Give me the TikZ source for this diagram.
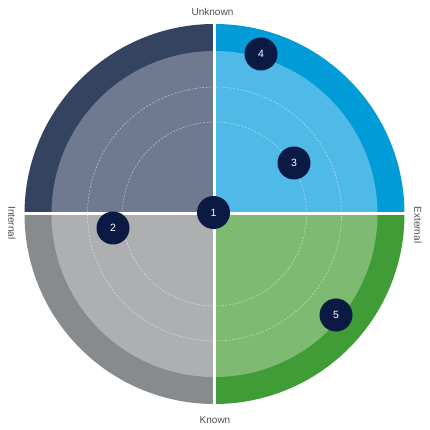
\documentclass[tikz,border=0pt]{standalone}
\usepackage{fontspec}
\setmainfont{Liberation Sans}
\definecolor{tlout}{HTML}{34435F}
\definecolor{tlin}{HTML}{6F7A91}
\definecolor{trout}{HTML}{019BD8}
\definecolor{trin}{HTML}{4FB9E7}
\definecolor{blout}{HTML}{888B8E}
\definecolor{blin}{HTML}{AEAFB1}
\definecolor{brout}{HTML}{409C36}
\definecolor{brin}{HTML}{7EBA71}
\definecolor{navy}{HTML}{0B1A43}
\definecolor{labgray}{HTML}{4F4F4F}
\begin{document}
\begin{tikzpicture}[x=1pt,y=1pt,
  marker/.style={circle, fill=navy, text=white, minimum size=33pt, inner sep=0pt, font=\fontsize{10.5}{12}\selectfont},
  axislabel/.style={text=labgray, font=\fontsize{10}{12}\selectfont, inner sep=0pt},
  ring/.style={white, opacity=0.5, line width=0.6pt, dash pattern=on 2pt off 1.5pt},
  gap/.style={white, line width=3pt}]
\useasboundingbox (0,0) rectangle (430,430);
\fill[white] (0,0) rectangle (430,430);
\coordinate (C) at (214.5,216);
% outer sectors
\fill[tlout] (C) -- ++(0,190) arc[start angle=90, end angle=180, radius=190] -- cycle;
\fill[trout] (C) -- ++(190,0) arc[start angle=0, end angle=90, radius=190] -- cycle;
\fill[blout] (C) -- ++(-190,0) arc[start angle=180, end angle=270, radius=190] -- cycle;
\fill[brout] (C) -- ++(0,-190) arc[start angle=270, end angle=360, radius=190] -- cycle;
% inner sectors
\fill[tlin] (C) -- ++(0,163) arc[start angle=90, end angle=180, radius=163] -- cycle;
\fill[trin] (C) -- ++(163,0) arc[start angle=0, end angle=90, radius=163] -- cycle;
\fill[blin] (C) -- ++(-163,0) arc[start angle=180, end angle=270, radius=163] -- cycle;
\fill[brin] (C) -- ++(0,-163) arc[start angle=270, end angle=360, radius=163] -- cycle;
% dashed rings
\draw[ring] (C) circle[radius=92];
\draw[ring] (C) circle[radius=127];
% gaps
\draw[gap] ([xshift=-195pt]C) -- ([xshift=195pt]C);
\draw[gap] ([yshift=-195pt]C) -- ([yshift=195pt]C);
% markers
\node[marker] (m1) at (213.5,217.5) {1};
\node[marker] (m2) at (113,202) {2};
\node[marker] (m3) at (294,267) {3};
\node[marker] (m4) at (261,376) {4};
\node[marker] (m5) at (336,115) {5};
% axis labels
\node[axislabel] (unknown) at (212.5,418) {Unknown};
\node[axislabel] (known) at (215,10) {Known};
\node[axislabel, rotate=-90] (internal) at (12,207) {Internal};
\node[axislabel, rotate=-90] (external) at (418,205) {External};
\end{tikzpicture}
\end{document}
